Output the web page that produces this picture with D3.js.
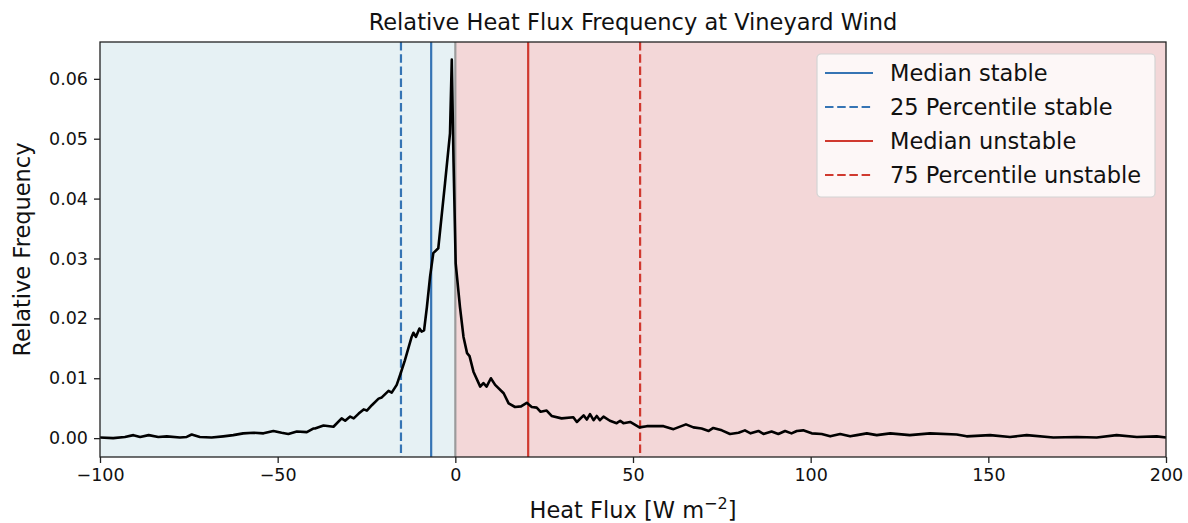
<!DOCTYPE html>
<html>
<head>
<meta charset="utf-8">
<script src="https://cdn.jsdelivr.net/npm/d3@7"></script>
<style>
  body { margin: 0; background: #fff; }
  text { font-family: "DejaVu Sans", sans-serif; fill: #111; }
</style>
</head>
<body>
<svg id="chart" width="1188" height="523"></svg>
<script>
// heat flux bins [W m-2] and relative frequency
var flux = [-100, -96.3, -93, -90.6, -88.7, -86.3, -83.6, -81.2, -77.5, -75.6, -74.2, -71.9, -68.6, -65.3,
  -62.5, -59.7, -56.8, -54, -51.2, -48.9, -47, -44.6, -41.8, -40, -39.5, -37.1, -34.3, -32, -31, -29.6,
  -28.6, -27.2, -25.8, -24.9, -23.5, -21.6, -20.7, -18.8, -17.9, -16.5, -15.4, -14.2, -12.3, -11.8, -11.1,
  -10.1, -9.5, -8.8, -8, -7.1, -6.2, -4.8, -2.9, -1.5, -1, -0.5, 0.1, 1.3, 2.3, 3.3, 4, 5.1, 7, 7.9, 8.8,
  10, 11.2, 13.6, 15, 16.8, 18.5, 20.1, 21.5, 22.9, 24, 25.7, 27.1, 29.9, 33.2, 34.2, 36.1, 37, 37.9, 38.9,
  39.8, 40.7, 41.7, 43.5, 45.4, 46.4, 47.3, 49.2, 51.8, 53.9, 58.6, 61.4, 64.9, 67, 69.3, 71.3, 72.6, 75,
  77.3, 79.7, 81.5, 83.1, 85.3, 86.7, 89, 90.9, 92.8, 94.6, 96.1, 97.9, 100.3, 103.1, 105.5, 108.3, 111.1,
  113, 115.8, 118.6, 122.4, 127.9, 133.6, 141.1, 143.9, 150.5, 156.1, 160.8, 168.3, 174.9, 180.5, 186.1,
  191.8, 197.4, 200];
var freq = [0.0001, 0.0000, 0.0002, 0.0005, 0.0002, 0.0005, 0.0002, 0.0003, 0.0001, 0.0002, 0.0006, 0.0002, 0.0001, 0.0003,
  0.0005, 0.0008, 0.0009, 0.0008, 0.0012, 0.0009, 0.0007, 0.0011, 0.0010, 0.0016, 0.0016, 0.0021, 0.0019, 0.0033, 0.0029, 0.0036,
  0.0033, 0.0041, 0.0048, 0.0046, 0.0055, 0.0066, 0.0068, 0.0079, 0.0076, 0.0089, 0.0108, 0.0130, 0.0169, 0.0176, 0.0169,
  0.0183, 0.0178, 0.0180, 0.0219, 0.0270, 0.0309, 0.0317, 0.0426, 0.0509, 0.0632, 0.0460, 0.0292, 0.0219, 0.0169, 0.0142, 0.0137, 0.0111, 0.0086, 0.0092, 0.0086,
  0.0100, 0.0089, 0.0075, 0.0058, 0.0052, 0.0053, 0.0059, 0.0052, 0.0051, 0.0044, 0.0046, 0.0037, 0.0033, 0.0035, 0.0027, 0.0038, 0.0031, 0.0040, 0.0030,
  0.0037, 0.0030, 0.0036, 0.0029, 0.0025, 0.0029, 0.0025, 0.0027, 0.0018, 0.0020, 0.0020, 0.0015, 0.0023, 0.0018, 0.0016, 0.0012, 0.0017, 0.0013,
  0.0007, 0.0009, 0.0013, 0.0008, 0.0012, 0.0007, 0.0011, 0.0007, 0.0012, 0.0008, 0.0012, 0.0013, 0.0008, 0.0007, 0.0003, 0.0007, 0.0003,
  0.0005, 0.0008, 0.0005, 0.0008, 0.0005, 0.0008, 0.0006, 0.0003, 0.0005, 0.0002, 0.0005, 0.0001, 0.0002, 0.0001, 0.0005,
  0.0002, 0.0003, 0.0001];

// reference lines
var refNames = ["Median stable", "25 Percentile stable", "Median unstable", "75 Percentile unstable"];
var refValues = [-6.8, -15.3, 20.5, 52.0];
var refColors = ["#3574b4", "#3574b4", "#d0392f", "#d0392f"];
var refDashed = [false, true, false, true];

var xTicks = [-100, -50, 0, 50, 100, 150, 200];
var yTicks = [0.00, 0.01, 0.02, 0.03, 0.04, 0.05, 0.06];

var svg = d3.select("#chart");
var plotL = 100, plotR = 1166, plotT = 42, plotB = 457;

var x = d3.scaleLinear().domain([-100, 200]).range([plotL, plotR]);
var y = d3.scaleLinear().domain([-0.00315, 0.06615]).range([plotB, plotT]);

// shaded regions
svg.append("rect")
  .attr("x", x(-100)).attr("y", plotT)
  .attr("width", x(0) - x(-100)).attr("height", plotB - plotT)
  .style("fill", "#e6f1f4");
svg.append("rect")
  .attr("x", x(0)).attr("y", plotT)
  .attr("width", x(200) - x(0)).attr("height", plotB - plotT)
  .style("fill", "#f3d7d8");

// zero line
svg.append("line")
  .attr("x1", x(0)).attr("x2", x(0)).attr("y1", plotT).attr("y2", plotB)
  .style("stroke", "#9b9b9b").style("stroke-width", 2.2);

// percentile / median lines
refValues.forEach(function(v, i) {
  svg.append("line")
    .attr("x1", x(v)).attr("x2", x(v)).attr("y1", plotT).attr("y2", plotB)
    .style("stroke", refColors[i])
    .style("stroke-width", 2.2)
    .style("stroke-dasharray", refDashed[i] ? "8.5,3.7" : null);
});

// frequency curve
var line = d3.line()
  .x(function(d, i) { return x(flux[i]); })
  .y(function(d) { return y(d); });
svg.append("path")
  .datum(freq)
  .attr("d", line)
  .style("fill", "none")
  .style("stroke", "#000")
  .style("stroke-width", 2.6)
  .style("stroke-linejoin", "round");

// axes
var xAxis = svg.append("g")
  .attr("transform", "translate(0," + plotB + ")")
  .call(d3.axisBottom(x).tickValues(xTicks).tickSize(6).tickPadding(6)
    .tickFormat(function(d) { return d < 0 ? "\u2212" + Math.abs(d) : d; }));
var yAxis = svg.append("g")
  .attr("transform", "translate(" + plotL + ",0)")
  .call(d3.axisLeft(y).tickValues(yTicks).tickSize(6).tickPadding(6).tickFormat(d3.format(".2f")));
[xAxis, yAxis].forEach(function(g) {
  g.select(".domain").remove();
  g.selectAll("line").style("stroke", "#222").style("stroke-width", 1.3);
  g.selectAll("text").style("font-size", "17.5px").style("font-family", "DejaVu Sans").style("fill", "#111");
});

// frame
svg.append("rect")
  .attr("x", plotL).attr("y", plotT)
  .attr("width", plotR - plotL).attr("height", plotB - plotT)
  .style("fill", "none").style("stroke", "#222").style("stroke-width", 1.3);

// titles
svg.append("text")
  .attr("x", (plotL + plotR) / 2).attr("y", 30)
  .attr("text-anchor", "middle")
  .style("font-size", "22.5px")
  .text("Relative Heat Flux Frequency at Vineyard Wind");

var xl = svg.append("text")
  .attr("x", (plotL + plotR) / 2).attr("y", 518)
  .attr("text-anchor", "middle")
  .style("font-size", "22.5px");
xl.append("tspan").text("Heat Flux [W m");
xl.append("tspan").attr("dy", -9).style("font-size", "16px").text("\u22122");
xl.append("tspan").attr("dy", 9).text("]");

svg.append("text")
  .attr("transform", "translate(30," + (plotT + plotB) / 2 + ") rotate(-90)")
  .attr("text-anchor", "middle")
  .style("font-size", "22.5px")
  .text("Relative Frequency");

// legend
var legend = svg.append("g").attr("transform", "translate(817,54)");
legend.append("rect")
  .attr("width", 338).attr("height", 143)
  .attr("rx", 4)
  .style("fill", "#fff").style("fill-opacity", 0.8)
  .style("stroke", "#d4d4d4").style("stroke-width", 1.2);
var item = legend.selectAll("g.item")
  .data(refNames)
  .enter()
  .append("g")
  .attr("class", "item")
  .attr("transform", function(d, i) { return "translate(0," + (19 + i * 34) + ")"; });
item.append("line")
  .attr("x1", 8).attr("x2", 56)
  .style("stroke", function(d, i) { return refColors[i]; })
  .style("stroke-width", 2.2)
  .style("stroke-dasharray", function(d, i) { return refDashed[i] ? "8.5,3.7" : null; });
item.append("text")
  .attr("x", 73).attr("y", 8)
  .style("font-size", "22.5px")
  .text(function(d) { return d; });
</script>
</body>
</html>
